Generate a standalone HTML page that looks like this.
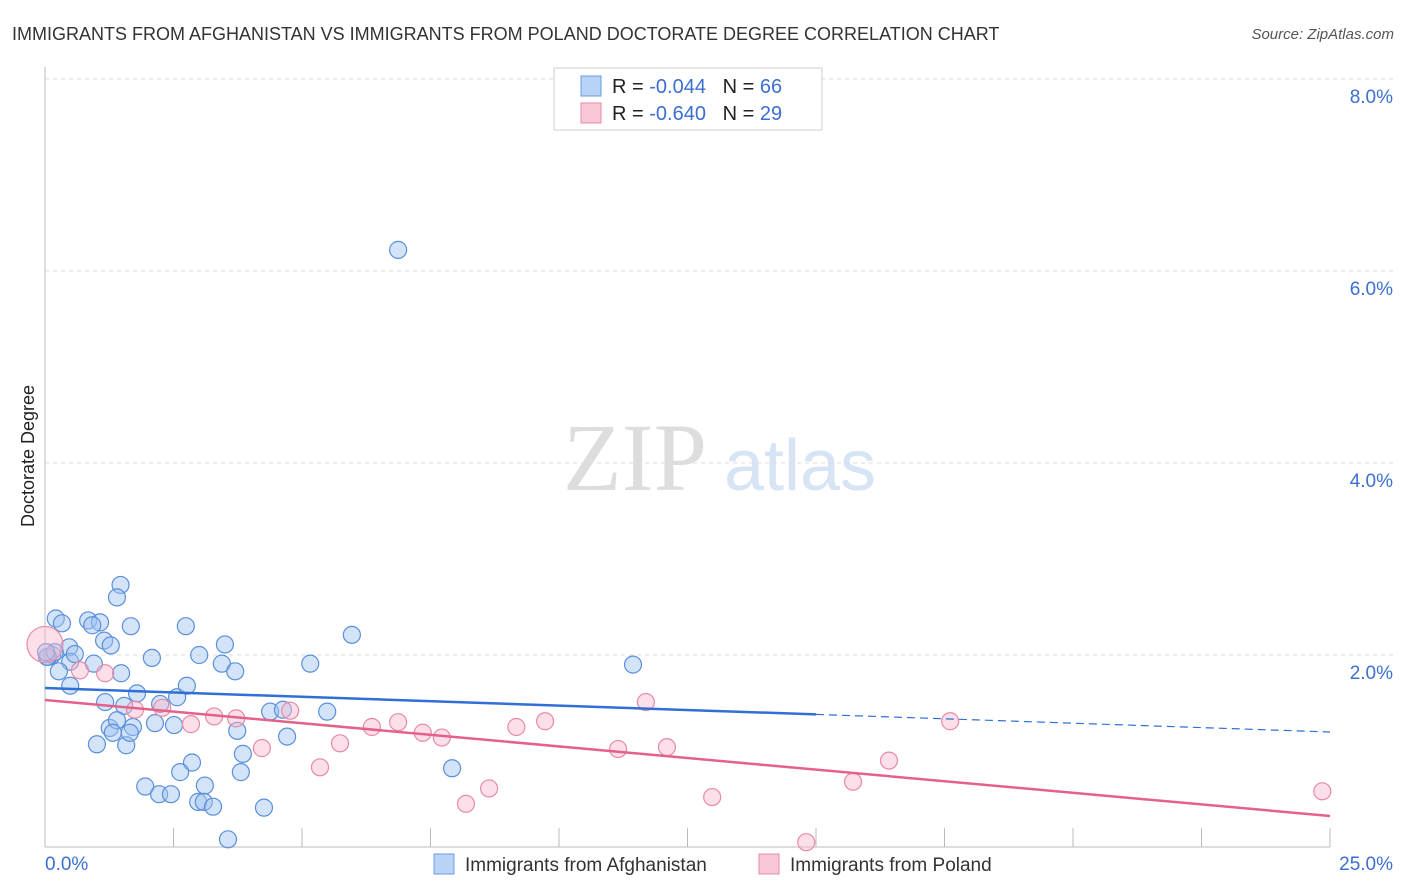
<!DOCTYPE html>
<html><head><meta charset="utf-8"><style>
body{margin:0;background:#fff;font-family:"Liberation Sans",sans-serif;}
svg{display:block}
</style></head><body>
<svg id="c" width="1406" height="892" xmlns="http://www.w3.org/2000/svg">
<text x="12" y="40" font-size="18" fill="#333">IMMIGRANTS FROM AFGHANISTAN VS IMMIGRANTS FROM POLAND DOCTORATE DEGREE CORRELATION CHART</text>
<text x="1394" y="39" font-size="15" fill="#555" font-style="italic" text-anchor="end">Source: ZipAtlas.com</text>
<text x="34" y="456" font-size="18" fill="#222" text-anchor="middle" transform="rotate(-90 34 456)">Doctorate Degree</text>
<g><text x="635" y="490" font-size="96" fill="#ddd" font-family="Liberation Serif" text-anchor="middle">ZIP</text><text x="800" y="490" font-size="72" fill="#d6e4f5" text-anchor="middle">atlas</text></g>
<g id="grid"></g><g id="marks"></g>
<g>
<rect x="554" y="68" width="268" height="62" fill="#fff" stroke="#ccc"/>
<rect x="581" y="76" width="20" height="20" fill="#b8d3f5" stroke="#6a9de0"/>
<rect x="581" y="103" width="20" height="20" fill="#f9c8d6" stroke="#e88aa5"/>
<text x="612" y="93" font-size="20" fill="#222">R = <tspan fill="#3b6fd1">-0.044</tspan>&#160;&#160;&#160;N = <tspan fill="#3b6fd1">66</tspan></text>
<text x="612" y="120" font-size="20" fill="#222">R = <tspan fill="#3b6fd1">-0.640</tspan>&#160;&#160;&#160;N = <tspan fill="#3b6fd1">29</tspan></text>
</g>
<g>
<rect x="434" y="854" width="20" height="20" fill="#b8d3f5" stroke="#6a9de0"/>
<text x="465" y="871" font-size="19" fill="#333">Immigrants from Afghanistan</text>
<rect x="759" y="854" width="20" height="20" fill="#f9c8d6" stroke="#e88aa5"/>
<text x="790" y="871" font-size="19" fill="#333">Immigrants from Poland</text>
</g>
</svg>
<script>
const yTicks=[2,4,6,8];
const xTickLabels=["0.0%","25.0%"];
const afgX=[],afgY=[];
const afgPx=[[83,586],[79,598],[56,620],[62,624],[88,621],[100,623],[92,626],[131,627],[186,627],[225,645],[52,654],[48,657],[69,648],[104,641],[111,646],[152,658],[199,655],[222,664],[235,672],[70,661],[94,663],[59,671],[121,673],[310,663],[352,634],[633,665],[398,250],[70,686],[137,693],[177,697],[187,686],[105,702],[160,704],[124,706],[97,744],[126,745],[110,728],[117,720],[133,727],[155,723],[174,725],[113,733],[130,733],[237,731],[270,712],[283,710],[327,712],[287,737],[243,754],[192,763],[180,772],[241,772],[452,768],[145,787],[205,786],[159,794],[171,794],[198,802],[204,802],[213,807],[264,808],[228,839],[47,656],[55,652],[75,654],[46,652]];
const afgXv=[1.47,1.40,0.21,0.33,0.84,1.07,0.92,1.67,2.74,3.50,0.14,0.06,0.47,1.15,1.28,2.08,3.00,3.44,3.70,0.49,0.95,0.27,1.48,5.16,5.97,11.44,6.87,0.49,1.79,2.57,2.76,1.17,2.24,1.54,1.01,1.58,1.26,1.40,1.71,2.14,2.51,1.32,1.65,3.74,4.38,4.63,5.49,4.71,3.85,2.86,2.63,3.81,7.92,1.95,3.11,2.22,2.45,2.98,3.09,3.27,4.26,3.56,0.04,0.19,0.58,0.02];
const afgYv=[2.73,2.60,2.38,2.33,2.36,2.34,2.31,2.30,2.30,2.11,2.00,1.98,2.08,2.15,2.10,1.97,2.00,1.91,1.83,1.93,1.91,1.83,1.81,1.91,2.21,1.90,6.22,1.68,1.60,1.56,1.68,1.51,1.49,1.47,1.07,1.06,1.24,1.32,1.25,1.29,1.27,1.19,1.19,1.21,1.41,1.43,1.41,1.15,0.97,0.88,0.78,0.78,0.82,0.63,0.64,0.55,0.55,0.47,0.47,0.42,0.41,0.08,1.98,2.03,2.01,2.03];
const polXv=[0.0,0.68,1.17,1.75,2.28,2.84,3.29,3.72,4.22,4.77,5.35,5.74,6.36,6.87,7.35,7.72,8.19,8.64,9.17,9.73,11.15,11.69,12.10,12.98,14.81,15.72,16.42,17.61,24.85];
const polYv=[2.11,1.84,1.81,1.43,1.45,1.28,1.36,1.34,1.03,1.42,0.83,1.08,1.25,1.30,1.19,1.14,0.45,0.61,1.25,1.31,1.02,1.51,1.04,0.52,0.05,0.68,0.90,1.31,0.58];
const polR=[0,0,0,0,0,0,0,0,0,0,0,0,0,0,0,0,0,0,0,0,0,0,0,0,0,0,0,0,0];
const afgTrend=[1.656,1.198];
const polTrend=[1.531,0.323];
const X=v=>45+v/25*1285, Y=v=>847-v*96;
const NS="http://www.w3.org/2000/svg";
function mk(t,a,p){const e=document.createElementNS(NS,t);for(const k in a)e.setAttribute(k,a[k]);p.appendChild(e);return e;}
const g=document.getElementById('grid'),m=document.getElementById('marks');
let ax=mk('line',{x1:45,y1:67,x2:45,y2:847,stroke:'#bbb'},g);


let bx=mk('line',{x1:45,y1:847,x2:1330,y2:847,stroke:'#bbb'},g);


for(let i=1;i<=10;i++){const t=mk('line',{x1:X(i*2.5),y1:828,x2:X(i*2.5),y2:847,stroke:'#bbb'},g);

}
yTicks.forEach(v=>{const l=mk('line',{x1:45,y1:Y(v),x2:1395,y2:Y(v),stroke:'#ddd','stroke-dasharray':'4,4'},g);


const t=mk('text',{x:1393,y:Y(v)+24,'font-size':19,fill:'#3b6fd1','text-anchor':'end'},g);t.textContent=v.toFixed(1)+'%';

});
xTickLabels.forEach((s,i)=>{const t=mk('text',{x:i?1393:45,y:870,'font-size':19,fill:'#3b6fd1','text-anchor':i?'end':'start'},g);t.textContent=s;

});
afgXv.forEach((x,i)=>{const c=mk('circle',{cx:X(x),cy:Y(afgYv[i]),r:8.5,fill:'rgba(160,195,240,0.45)',stroke:'#5b8fdc','stroke-width':1.2},m);

});
polXv.forEach((x,i)=>{const c=mk('circle',{cx:X(x),cy:Y(polYv[i]),r:i==0?18:8.5,fill:'rgba(248,185,205,0.45)',stroke:'#e88aa5','stroke-width':1.2},m);

});
const ay=x=>afgTrend[0]+(afgTrend[1]-afgTrend[0])*x/25;
let l1=mk('line',{x1:X(0),y1:Y(ay(0)),x2:X(15),y2:Y(ay(15)),stroke:'#2f6fd6','stroke-width':2.5},m);


let l2=mk('line',{x1:X(15),y1:Y(ay(15)),x2:X(25),y2:Y(ay(25)),stroke:'#2f6fd6','stroke-width':1.2,'stroke-dasharray':'8,5'},m);


let l3=mk('line',{x1:X(0),y1:Y(polTrend[0]),x2:X(25),y2:Y(polTrend[1]),stroke:'#e4618a','stroke-width':2.5},m);


</script>
</body></html>
